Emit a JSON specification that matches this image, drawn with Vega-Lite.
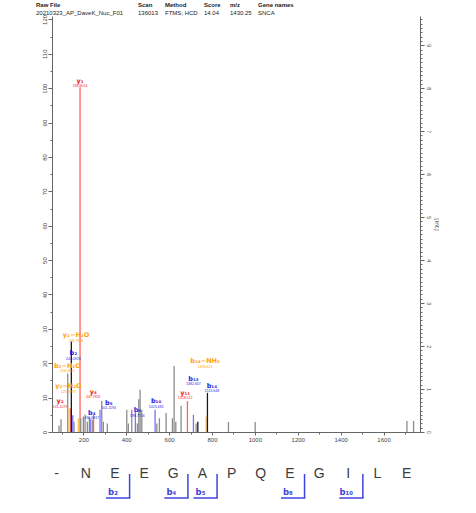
{
  "$schema": "https://vega.github.io/schema/vega-lite/v6.json",
  "padding": {"left": 36, "top": 1, "right": 0, "bottom": 0},
  "background": "white",
  "bounds": "flush",
  "spacing": 0,
  "config": {"font": "Liberation Sans", "view": {"stroke": null}},
  "datasets": {
    "header": [
      {"col": 1, "head": "Raw File", "value": "20210323_AP_DaveK_Nuc_F01"},
      {"col": 2, "head": "Scan", "value": "136013"},
      {"col": 3, "head": "Method", "value": "FTMS; HCD"},
      {"col": 4, "head": "Score", "value": "14.04"},
      {"col": 5, "head": "m/z", "value": "1430.25"},
      {"col": 6, "head": "Gene names", "value": "SNCA"}
    ],
    "peaks": [
      {"mz": 86.8, "int": 1.9, "type": "other"},
      {"mz": 96.1, "int": 3.7, "type": "other"},
      {"mz": 127.4, "int": 17.0, "type": "other"},
      {"mz": 133.5, "int": 7.0, "type": "loss"},
      {"mz": 141.4, "int": 6.8, "type": "y"},
      {"mz": 144.2, "int": 26.3, "type": "strong"},
      {"mz": 150.7, "int": 4.9, "type": "b"},
      {"mz": 156.8, "int": 3.0, "type": "other"},
      {"mz": 176.9, "int": 4.0, "type": "loss"},
      {"mz": 184.8, "int": 100.3, "type": "y"},
      {"mz": 188.1, "int": 4.0, "type": "other"},
      {"mz": 200.2, "int": 4.5, "type": "other"},
      {"mz": 208.1, "int": 5.0, "type": "other"},
      {"mz": 218.8, "int": 3.0, "type": "other"},
      {"mz": 228.2, "int": 4.3, "type": "other"},
      {"mz": 234.7, "int": 3.8, "type": "b"},
      {"mz": 244.0, "int": 3.5, "type": "other"},
      {"mz": 247.8, "int": 5.0, "type": "y"},
      {"mz": 278.0, "int": 6.5, "type": "b"},
      {"mz": 286.0, "int": 9.0, "type": "other"},
      {"mz": 293.5, "int": 3.0, "type": "other"},
      {"mz": 312.0, "int": 2.5, "type": "other"},
      {"mz": 402.7, "int": 6.5, "type": "other"},
      {"mz": 410.0, "int": 2.5, "type": "other"},
      {"mz": 426.0, "int": 6.5, "type": "other"},
      {"mz": 442.8, "int": 5.8, "type": "b"},
      {"mz": 452.0, "int": 2.5, "type": "other"},
      {"mz": 458.7, "int": 9.5, "type": "other"},
      {"mz": 464.8, "int": 12.3, "type": "other"},
      {"mz": 472.7, "int": 6.5, "type": "other"},
      {"mz": 534.8, "int": 6.5, "type": "b"},
      {"mz": 542.7, "int": 2.5, "type": "other"},
      {"mz": 554.8, "int": 4.0, "type": "other"},
      {"mz": 586.0, "int": 5.5, "type": "other"},
      {"mz": 615.5, "int": 4.0, "type": "other"},
      {"mz": 623.4, "int": 19.2, "type": "other"},
      {"mz": 631.3, "int": 3.0, "type": "other"},
      {"mz": 656.0, "int": 7.6, "type": "other"},
      {"mz": 685.5, "int": 9.0, "type": "y"},
      {"mz": 713.5, "int": 5.0, "type": "b"},
      {"mz": 726.0, "int": 2.5, "type": "other"},
      {"mz": 734.0, "int": 3.0, "type": "strong"},
      {"mz": 772.8, "int": 4.5, "type": "loss"},
      {"mz": 778.8, "int": 11.4, "type": "strong"},
      {"mz": 876.8, "int": 2.9, "type": "other"},
      {"mz": 1001.4, "int": 2.9, "type": "other"},
      {"mz": 1709, "int": 3.2, "type": "other"},
      {"mz": 1740, "int": 3.2, "type": "other"}
    ],
    "labels": [
      {"ion": "y₁", "mass": "184.8054", "mz": 184.8, "int": 102.2, "type": "y"},
      {"ion": "y₁−H₂O", "mass": "166.7948", "mz": 166.0, "int": 28.2, "type": "loss"},
      {"ion": "b₂", "mass": "244.0928", "mz": 153.5, "int": 22.9, "type": "b"},
      {"ion": "b₂−H₂O", "mass": "226.0822", "mz": 125.5, "int": 19.2, "type": "loss"},
      {"ion": "y₂−H₂O", "mass": "123.0973", "mz": 130.2, "int": 13.3, "type": "loss"},
      {"ion": "y₂", "mass": "141.1079", "mz": 91.5, "int": 9.0, "type": "y"},
      {"ion": "y₄", "mass": "447.7831", "mz": 246.8, "int": 11.7, "type": "y"},
      {"ion": "b₅", "mass": "501.1194", "mz": 318.6, "int": 8.5, "type": "b"},
      {"ion": "b₄", "mass": "430.6817", "mz": 239.4, "int": 5.6, "type": "b"},
      {"ion": "b₆", "mass": "598.7716", "mz": 452.2, "int": 6.3, "type": "b"},
      {"ion": "b₁₀", "mass": "1023.483", "mz": 539.4, "int": 9.0, "type": "b"},
      {"ion": "y₁₁", "mass": "1228.512", "mz": 674.8, "int": 11.4, "type": "y"},
      {"ion": "b₁₃", "mass": "1382.607", "mz": 713.5, "int": 15.5, "type": "b"},
      {"ion": "b₁₄", "mass": "1513.648", "mz": 799.3, "int": 13.4, "type": "b"},
      {"ion": "b₁₄−NH₃", "mass": "1496.621", "mz": 768.0, "int": 20.6, "type": "loss"}
    ],
    "sequence": [
      {"pos": 0, "aa": "-"}, {"pos": 1, "aa": "N"}, {"pos": 2, "aa": "E"}, {"pos": 3, "aa": "E"},
      {"pos": 4, "aa": "G"}, {"pos": 5, "aa": "A"}, {"pos": 6, "aa": "P"}, {"pos": 7, "aa": "Q"},
      {"pos": 8, "aa": "E"}, {"pos": 9, "aa": "G"}, {"pos": 10, "aa": "I"}, {"pos": 11, "aa": "L"},
      {"pos": 12, "aa": "E"}
    ],
    "fragments": [
      {"n": 2, "ion": "b₂"}, {"n": 4, "ion": "b₄"}, {"n": 5, "ion": "b₅"}, {"n": 8, "ion": "b₈"}, {"n": 10, "ion": "b₁₀"}
    ]
  },
  "vconcat": [
    {
      "width": 368,
      "height": 15,
      "data": {"name": "header"},
      "encoding": {
        "x": {"field": "col", "type": "quantitative", "scale": {"domain": [1, 2, 3, 4, 5, 6], "range": [-16, 86, 113, 152, 178, 206]}, "axis": null}
      },
      "layer": [
        {"mark": {"type": "text", "align": "left", "fontWeight": "bold", "fontSize": 6, "dy": -3.5, "color": "#222"}, "encoding": {"text": {"field": "head"}}},
        {"mark": {"type": "text", "align": "left", "fontSize": 6, "dy": 4.5, "color": "#222"}, "encoding": {"text": {"field": "value"}}}
      ]
    },
    {
      "width": 368,
      "height": 416,
      "resolve": {"axis": {"x": "independent", "y": "independent"}, "scale": {"color": "independent"}},
      "layer": [
        {
          "data": {"name": "peaks"},
          "mark": {"type": "rule", "strokeWidth": 1.3},
          "encoding": {
            "x": {"field": "mz", "type": "quantitative", "scale": {"domain": [54, 1770], "nice": false, "zero": false},
                  "axis": {"values": [200, 400, 600, 800, 1000, 1200, 1400, 1600], "format": "d", "labelFontSize": 6, "tickSize": 3, "labelPadding": 1, "title": null, "grid": false, "domainColor": "#666", "tickColor": "#666", "labelColor": "#444", "labelFlush": false, "orient": "bottom"}},
            "y": {"field": "int", "type": "quantitative", "scale": {"domain": [0, 121], "nice": false},
                  "axis": {"values": [0, 10, 20, 30, 40, 50, 60, 70, 80, 90, 100, 110, 120], "labelAngle": -90, "labelFontSize": 6, "tickSize": 4, "labelPadding": 1, "title": null, "grid": false, "domainColor": "#666", "tickColor": "#666", "labelColor": "#444", "orient": "left"}},
            "y2": {"datum": 0},
            "color": {"field": "type", "type": "nominal", "legend": null,
                      "scale": {"domain": ["other", "strong", "y", "b", "loss"], "range": ["#8c8c8c", "#1a1a1a", "#ff6262", "#7474ff", "#ffc252"]}}
          }
        },
        {
          "data": {"name": "peaks"},
          "mark": {"type": "point", "opacity": 0},
          "encoding": {
            "x": {"field": "mz", "type": "quantitative", "axis": {"values": [100, 300, 500, 700, 900, 1100, 1300, 1500, 1700], "labels": false, "tickSize": 2, "domain": false, "title": null, "grid": false, "tickColor": "#666", "orient": "bottom"}},
            "y": {"field": "int", "type": "quantitative", "axis": {"values": [5, 15, 25, 35, 45, 55, 65, 75, 85, 95, 105, 115], "labels": false, "tickSize": 2, "domain": false, "title": null, "grid": false, "tickColor": "#666", "orient": "left"}}
          }
        },
        {
          "data": {"name": "peaks"},
          "mark": {"type": "point", "opacity": 0},
          "encoding": {
            "x": {"field": "mz", "type": "quantitative", "axis": null},
            "y": {"field": "int", "type": "quantitative", "axis": {"orient": "right", "values": [0, 12.5, 25, 37.5, 50, 62.5, 75, 87.5, 100, 112.5], "labelExpr": "format(datum.value / 12.5, 'd')", "labelAngle": 90, "labelFontSize": 5, "tickSize": 4, "labelPadding": 1, "title": "[Int]", "titleFont": "DejaVu Sans", "titleFontSize": 6, "titleFontWeight": "normal", "titlePadding": 3, "titleColor": "#444", "grid": false, "domainColor": "#666", "tickColor": "#666", "labelColor": "#444"}}
          }
        },
        {
          "data": {"name": "peaks"},
          "mark": {"type": "point", "opacity": 0},
          "encoding": {
            "x": {"field": "mz", "type": "quantitative", "axis": null},
            "y": {"field": "int", "type": "quantitative", "axis": {"orient": "right", "values": [1.25, 2.5, 3.75, 5, 6.25, 7.5, 8.75, 10, 11.25, 13.75, 15, 16.25, 17.5, 18.75, 20, 21.25, 22.5, 23.75, 26.25, 27.5, 28.75, 30, 31.25, 32.5, 33.75, 35, 36.25, 38.75, 40, 41.25, 42.5, 43.75, 45, 46.25, 47.5, 48.75, 51.25, 52.5, 53.75, 55, 56.25, 57.5, 58.75, 60, 61.25, 63.75, 65, 66.25, 67.5, 68.75, 70, 71.25, 72.5, 73.75, 76.25, 77.5, 78.75, 80, 81.25, 82.5, 83.75, 85, 86.25, 88.75, 90, 91.25, 92.5, 93.75, 95, 96.25, 97.5, 98.75, 101.25, 102.5, 103.75, 105, 106.25, 107.5, 108.75, 110, 111.25, 113.75, 115, 116.25, 117.5, 118.75, 120], "labels": false, "tickSize": 2, "domain": false, "title": null, "grid": false, "tickColor": "#666"}}
          }
        },
        {
          "data": {"name": "labels"},
          "mark": {"type": "text", "font": "DejaVu Sans", "fontSize": 6.5, "fontWeight": "bold", "baseline": "middle"},
          "encoding": {
            "x": {"field": "mz", "type": "quantitative", "axis": null},
            "y": {"field": "int", "type": "quantitative", "axis": null},
            "text": {"field": "ion"},
            "color": {"field": "type", "type": "nominal", "legend": null,
                      "scale": {"domain": ["y", "b", "loss"], "range": ["#ee1c25", "#1f1fe0", "#ffa20f"]}}
          }
        },
        {
          "data": {"name": "labels"},
          "mark": {"type": "text", "fontSize": 3.5, "baseline": "middle", "dy": 5.5},
          "encoding": {
            "x": {"field": "mz", "type": "quantitative", "axis": null},
            "y": {"field": "int", "type": "quantitative", "axis": null},
            "text": {"field": "mass"},
            "color": {"field": "type", "type": "nominal", "legend": null,
                      "scale": {"domain": ["y", "b", "loss"], "range": ["#ee1c25", "#1f1fe0", "#ffa20f"]}}
          }
        }
      ]
    },
    {
      "width": 368,
      "height": 82,
      "layer": [
        {
          "data": {"name": "sequence"},
          "mark": {"type": "text", "fontSize": 14, "color": "#3c3c3c", "baseline": "middle", "dy": 1},
          "encoding": {
            "x": {"field": "pos", "type": "quantitative", "scale": {"domain": [-0.16, 12.46], "nice": false, "zero": false}, "axis": null},
            "text": {"field": "aa"}
          }
        },
        {
          "data": {"name": "fragments"},
          "mark": {"type": "rule", "color": "#3f44dc", "strokeWidth": 1.5, "xOffset": 14.6},
          "encoding": {
            "x": {"field": "n", "type": "quantitative"},
            "y": {"value": 42},
            "y2": {"value": 66}
          }
        },
        {
          "data": {"name": "fragments"},
          "mark": {"type": "rule", "color": "#3f44dc", "strokeWidth": 1.5, "xOffset": -9, "x2Offset": 15.4},
          "encoding": {
            "x": {"field": "n", "type": "quantitative"},
            "x2": {"field": "n"},
            "y": {"value": 66}
          }
        },
        {
          "data": {"name": "fragments"},
          "mark": {"type": "text", "font": "DejaVu Sans", "color": "#3f44dc", "fontSize": 8.5, "fontWeight": "bold", "baseline": "middle", "dx": -2},
          "encoding": {
            "x": {"field": "n", "type": "quantitative"},
            "y": {"value": 60},
            "text": {"field": "ion"}
          }
        }
      ]
    }
  ]
}
